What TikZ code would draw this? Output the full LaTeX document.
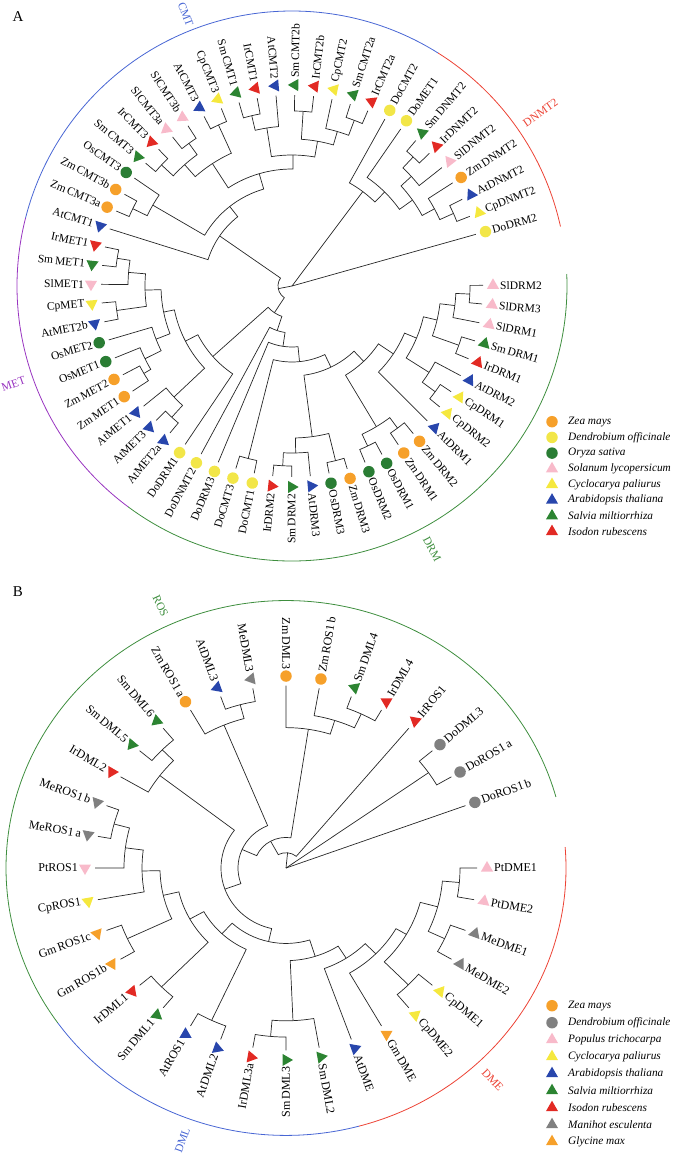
\documentclass[tikz,border=0pt]{standalone}
\usepackage{fontspec}
\setmainfont{Liberation Serif}
\usetikzlibrary{shapes.geometric}

\definecolor{zmorange}{RGB}{246,160,42}
\definecolor{doyellow}{RGB}{242,230,72}
\definecolor{osgreen}{RGB}{42,125,52}
\definecolor{slpink}{RGB}{248,186,202}
\definecolor{cpyellow}{RGB}{245,232,62}
\definecolor{atblue}{RGB}{40,70,172}
\definecolor{smgreen}{RGB}{44,132,50}
\definecolor{irred}{RGB}{226,42,36}
\definecolor{megray}{RGB}{128,128,128}
\definecolor{cmtblue}{RGB}{72,102,212}
\definecolor{dnmtred}{RGB}{236,66,52}
\definecolor{drmgreen}{RGB}{62,142,62}
\definecolor{metpurple}{RGB}{152,52,192}

% leaf: name, angle, marker style, label
\newcommand{\leaf}[4]{%
  \expandafter\xdef\csname tang#1\endcsname{#2}%
  \coordinate (#1) at (#2:191);
  \node[#3, rotate=#2] (#1m) at (#2:201) {};
  \pgfmathtruncatemacro\lfflip{and(#2>89.9, #2<270.1)}%
  \ifnum\lfflip=1
    \pgfmathsetmacro\lfrot{#2-180}%
    \node[lbl, anchor=east, rotate=\lfrot] (#1t) at (#2:208) {#4};
  \else
    \node[lbl, anchor=west, rotate=#2] (#1t) at (#2:208) {#4};
  \fi}
% clade: parent, child, child, radius
\newcommand{\clade}[4]{%
  \pgfmathsetmacro\angA{\csname tang#2\endcsname}%
  \pgfmathsetmacro\angB{\csname tang#3\endcsname}%
  \pgfmathsetmacro\angM{(\angA+\angB)/2}%
  \expandafter\xdef\csname tang#1\endcsname{\angM}%
  \coordinate (#1) at (\angM:#4);
  \draw[branch] (#2) -- (\angA:#4) arc[start angle=\angA, end angle=\angB, radius=#4] -- (#3);}

\begin{document}
\begin{tikzpicture}[x=1pt, y=1pt,
  branch/.style={line width=0.7pt, draw=black!85},
  dot/.style={circle, inner sep=0pt, minimum size=11.5pt},
  tri/.style={regular polygon, regular polygon sides=3, inner sep=0pt, minimum size=14pt},
  mkZm/.style={dot, fill=zmorange},
  mkDo/.style={dot, fill=doyellow},
  mkDoB/.style={dot, fill=megray},
  mkOs/.style={dot, fill=osgreen},
  mkSl/.style={tri, fill=slpink},
  mkPt/.style={tri, fill=slpink},
  mkCp/.style={tri, fill=cpyellow},
  mkAt/.style={tri, fill=atblue},
  mkSm/.style={tri, fill=smgreen},
  mkIr/.style={tri, fill=irred},
  mkMe/.style={tri, fill=megray},
  mkGm/.style={tri, fill=zmorange},
  lbl/.style={inner sep=0pt, font=\fontsize{11.5}{13}\selectfont},
  grp/.style={inner sep=0pt, font=\fontsize{11.5}{13}\selectfont},
  legtext/.style={anchor=west, inner sep=0pt, font=\fontsize{11.3}{13}\selectfont\itshape},
  panel/.style={inner sep=0pt, font=\fontsize{15}{17}\selectfont}]
\useasboundingbox (0,0) rectangle (685,-1155);

\node[panel] (labA) at (18,-17) {A};
\node[panel] (labB) at (18,-592) {B};

% ---------------- tree A
\begin{scope}[shift={(292,-286)}]
\draw[cmtblue, line width=0.8pt] (57.9:275) arc[start angle=57.9, end angle=165.7, radius=275];
\draw[dnmtred, line width=0.8pt] (12.5:275) arc[start angle=12.5, end angle=57.9, radius=275];
\draw[drmgreen, line width=0.8pt] (-126.6:275) arc[start angle=-126.6, end angle=2.5, radius=275];
\draw[metpurple, line width=0.8pt] (165.7:275) arc[start angle=165.7, end angle=233.4, radius=275];
\node[grp, text=cmtblue, anchor=east, rotate=-68.6] (cmtlab) at (111.4:279) {CMT};
\node[grp, text=dnmtred, anchor=west, rotate=34.9] (dnmtlab) at (34.9:283) {DNMT2};
\node[grp, text=drmgreen, anchor=west, rotate=-62] (drmlab) at (-62:285) {DRM};
\node[grp, text=metpurple, anchor=east, rotate=19.4] (metlab) at (199.4:283) {MET};

\leaf{IrMET1}{168.2}{mkIr}{IrMET1}
\leaf{SmMET1}{173.8}{mkSm}{Sm\,MET1}
\leaf{SlMET1}{179.5}{mkSl}{SlMET1}
\leaf{CpMET}{185.1}{mkCp}{CpMET}
\leaf{AtMET2b}{190.8}{mkAt}{AtMET2b}
\leaf{OsMET2}{196.4}{mkOs}{OsMET2}
\leaf{OsMET1}{202.1}{mkOs}{OsMET1}
\leaf{ZmMET2}{207.7}{mkZm}{Zm\,MET2}
\leaf{ZmMET1}{213.4}{mkZm}{Zm\,MET1}
\leaf{AtMET1}{219.0}{mkAt}{AtMET1}
\leaf{AtMET3}{224.7}{mkAt}{AtMET3}
\leaf{AtMET2a}{230.3}{mkAt}{AtMET2a}
\leaf{DoDRM1}{236.0}{mkDo}{DoDRM1}
\leaf{DoDNMT2}{241.6}{mkDo}{DoDNMT2}
\leaf{DoDRM3}{247.3}{mkDo}{DoDRM3}
\leaf{DoCMT3}{252.9}{mkDo}{DoCMT3}
\leaf{DoCMT1}{258.6}{mkDo}{DoCMT1}
\leaf{IrDRM2}{264.2}{mkIr}{IrDRM2}
\leaf{SmDRM2}{269.9}{mkSm}{Sm\,DRM2}
\leaf{AtDRM3}{275.5}{mkAt}{AtDRM3}
\leaf{OsDRM3}{281.2}{mkOs}{OsDRM3}
\leaf{ZmDRM3}{286.8}{mkZm}{Zm\,DRM3}
\leaf{OsDRM2}{292.5}{mkOs}{OsDRM2}
\leaf{OsDRM1}{298.1}{mkOs}{OsDRM1}
\leaf{ZmDRM1}{303.8}{mkZm}{Zm\,DRM1}
\leaf{ZmDRM2}{309.4}{mkZm}{Zm\,DRM2}
\leaf{AtDRM1}{315.1}{mkAt}{AtDRM1}
\leaf{CpDRM2}{320.7}{mkCp}{CpDRM2}
\leaf{CpDRM1}{326.4}{mkCp}{CpDRM1}
\leaf{AtDRM2}{332.0}{mkAt}{AtDRM2}
\leaf{IrDRM1}{337.6}{mkIr}{IrDRM1}
\leaf{SmDRM1}{343.3}{mkSm}{Sm\,DRM1}
\leaf{SlDRM1}{348.9}{mkSl}{SlDRM1}
\leaf{SlDRM3}{354.6}{mkSl}{SlDRM3}
\leaf{SlDRM2}{360.2}{mkSl}{SlDRM2}
\leaf{DoDRM2}{15.7}{mkDo}{DoDRM2}
\leaf{CpDNMT2}{21.4}{mkCp}{CpDNMT2}
\leaf{AtDNMT2}{27.0}{mkAt}{AtDNMT2}
\leaf{ZmDNMT2}{32.7}{mkZm}{Zm\,DNMT2}
\leaf{SlDNMT2}{38.3}{mkSl}{SlDNMT2}
\leaf{IrDNMT2}{44.0}{mkIr}{IrDNMT2}
\leaf{SmDNMT2}{49.6}{mkSm}{Sm\,DNMT2}
\leaf{DoMET1}{55.3}{mkDo}{DoMET1}
\leaf{DoCMT2}{60.9}{mkDo}{DoCMT2}
\leaf{IrCMT2a}{66.6}{mkIr}{IrCMT2a}
\leaf{SmCMT2a}{72.2}{mkSm}{Sm\,CMT2a}
\leaf{CpCMT2}{77.9}{mkCp}{CpCMT2}
\leaf{IrCMT2b}{83.5}{mkIr}{IrCMT2b}
\leaf{SmCMT2b}{89.2}{mkSm}{Sm\,CMT2b}
\leaf{AtCMT2}{94.8}{mkAt}{AtCMT2}
\leaf{IrCMT1}{100.5}{mkIr}{IrCMT1}
\leaf{SmCMT1}{106.1}{mkSm}{Sm\,CMT1}
\leaf{CpCMT3}{111.7}{mkCp}{CpCMT3}
\leaf{AtCMT3}{117.4}{mkAt}{AtCMT3}
\leaf{SlCMT3b}{123.0}{mkSl}{SlCMT3b}
\leaf{SlCMT3a}{128.7}{mkSl}{SlCMT3a}
\leaf{IrCMT3}{134.3}{mkIr}{IrCMT3}
\leaf{SmCMT3}{140.0}{mkSm}{Sm\,CMT3}
\leaf{OsCMT3}{145.6}{mkOs}{OsCMT3}
\leaf{ZmCMT3b}{151.3}{mkZm}{Zm\,CMT3b}
\leaf{ZmCMT3a}{156.9}{mkZm}{Zm\,CMT3a}
\leaf{AtCMT1}{162.6}{mkAt}{AtCMT1}

% DNMT2 side
\clade{aSI}{SmDNMT2}{IrDNMT2}{177}
\clade{aSIS}{aSI}{SlDNMT2}{162}
\clade{aAC}{AtDNMT2}{CpDNMT2}{177}
\clade{aZAC}{ZmDNMT2}{aAC}{162}
\clade{aDN}{aSIS}{aZAC}{148}
\clade{aDM}{DoMET1}{aDN}{132}
\clade{aDC}{DoCMT2}{aDM}{118}
% CMT
\clade{aIStwoa}{IrCMT2a}{SmCMT2a}{177}
\clade{aCptwo}{aIStwoa}{CpCMT2}{161}
\clade{aIStwob}{IrCMT2b}{SmCMT2b}{175}
\clade{aCtwo}{aCptwo}{aIStwob}{147}
\clade{aISone}{IrCMT1}{SmCMT1}{175}
\clade{aAttwo}{AtCMT2}{aISone}{160}
\clade{aConetwo}{aCtwo}{aAttwo}{131}
\clade{aCAthree}{CpCMT3}{AtCMT3}{177}
\clade{aSlthree}{SlCMT3b}{SlCMT3a}{176}
\clade{aISthree}{IrCMT3}{SmCMT3}{178}
\clade{aSISthree}{aSlthree}{aISthree}{162}
\clade{aCthree}{aCAthree}{aSISthree}{146}
\clade{aCall}{aConetwo}{aCthree}{117}
\clade{aZmthree}{ZmCMT3b}{ZmCMT3a}{177}
\clade{aOZthree}{OsCMT3}{aZmthree}{161}
\clade{aCx}{aCall}{aOZthree}{101}
\clade{aCMT}{aCx}{AtCMT1}{88}
% MET
\clade{aISm}{IrMET1}{SmMET1}{177}
\clade{aISS}{aISm}{SlMET1}{164}
\clade{aCA}{CpMET}{AtMET2b}{177}
\clade{aMone}{aISS}{aCA}{147}
\clade{aZm}{ZmMET2}{ZmMET1}{172}
\clade{aOZ}{OsMET1}{aZm}{164}
\clade{aOstwo}{OsMET2}{aOZ}{146}
\clade{aMa}{aMone}{aOstwo}{131}
\clade{aAtt}{AtMET3}{AtMET2a}{178}
\clade{aAone}{AtMET1}{aAtt}{162}
\clade{aMET}{aMa}{aAone}{120}
\clade{aMD}{aMET}{DoDRM1}{106}
% DRM
\clade{aIS}{IrDRM2}{SmDRM2}{180}
\clade{aISA}{aIS}{AtDRM3}{167}
\clade{aOZd}{OsDRM3}{ZmDRM3}{180}
\clade{aISAOZ}{aISA}{aOZd}{152}
\clade{aOsd}{OsDRM2}{OsDRM1}{177}
\clade{aZmd}{ZmDRM1}{ZmDRM2}{177}
\clade{aOZtw}{aOsd}{aZmd}{164}
\clade{aCp}{CpDRM2}{CpDRM1}{178}
\clade{aCpAt}{aCp}{AtDRM2}{162}
\clade{aISd}{IrDRM1}{SmDRM1}{177}
\clade{aSltt}{SlDRM3}{SlDRM2}{178}
\clade{aSl}{SlDRM1}{aSltt}{164}
\clade{aISSl}{aISd}{aSl}{149}
\clade{aSCA}{aCpAt}{aISSl}{135}
\clade{aX}{AtDRM1}{aSCA}{122}
\clade{aDRMr}{aOZtw}{aX}{104}
\clade{aDRM}{aISAOZ}{aDRMr}{90}
\clade{aDoC}{DoCMT3}{DoCMT1}{178}
\clade{aDothree}{aDoC}{aDRM}{76}
\clade{aDotwo}{DoDRM3}{aDothree}{61}
\clade{aDoone}{DoDNMT2}{aDotwo}{47}
\clade{aMDD}{aMD}{aDoone}{32}
\clade{aZ}{aCMT}{aMDD}{14}
% root
\coordinate (rootA) at (0,0);
\path[branch] (rootA) edge (aDC);
\path[branch] (rootA) edge (DoDRM2);
\path[branch] (rootA) edge (aZ);
\end{scope}

% legend A
\node[mkZm] (legAa) at (552,-421.7) {};
\node[mkDo] (legAb) at (552,-437.4) {};
\node[mkOs] (legAc) at (552,-453.1) {};
\node[mkSl] (legAd) at (552,-468.8) {};
\node[mkCp] (legAe) at (552,-484.5) {};
\node[mkAt] (legAf) at (552,-500.2) {};
\node[mkSm] (legAg) at (552,-515.9) {};
\node[mkIr] (legAh) at (552,-531.6) {};
\node[legtext] (legAat) at (568,-421.7) {Zea mays};
\node[legtext] (legAbt) at (568,-437.4) {Dendrobium officinale};
\node[legtext] (legAct) at (568,-453.1) {Oryza sativa};
\node[legtext] (legAdt) at (568,-468.8) {Solanum lycopersicum};
\node[legtext] (legAet) at (568,-484.5) {Cyclocarya paliurus};
\node[legtext] (legAft) at (568,-500.2) {Arabidopsis thaliana};
\node[legtext] (legAgt) at (568,-515.9) {Salvia miltiorrhiza};
\node[legtext] (legAht) at (568,-531.6) {Isodon rubescens};

% ---------------- tree B
\begin{scope}[shift={(286,-868)}, yscale=0.955,
  lbl/.style={inner sep=0pt, font=\fontsize{12}{14}\selectfont}]
\draw[drmgreen, line width=0.8pt] (15.4:280) arc[start angle=15.4, end angle=215.4, radius=280];
\draw[cmtblue, line width=0.8pt] (215.4:280) arc[start angle=215.4, end angle=285.1, radius=280];
\draw[dnmtred, line width=0.8pt] (285.1:280) arc[start angle=285.1, end angle=364.5, radius=280];
\node[grp, text=drmgreen, anchor=east, rotate=-65.4] (roslab) at (114.6:290) {ROS};
\node[grp, text=cmtblue, anchor=east, rotate=70] (dmllab) at (250:290) {DML};
\node[grp, text=dnmtred, anchor=west, rotate=-47] (dmelab) at (-47:290) {DME};

\leaf{ZmROS1a}{120}{mkZm}{Zm\,ROS1\,a}
\leaf{AtDML3}{110}{mkAt}{AtDML3}
\leaf{MeDML3}{100}{mkMe}{MeDML3}
\leaf{ZmDML3}{90}{mkZm}{Zm\,DML3}
\leaf{ZmROS1b}{80}{mkZm}{Zm\,ROS1\,b}
\leaf{SmDML4}{70}{mkSm}{Sm\,DML4}
\leaf{IrDML4}{60}{mkIr}{IrDML4}
\leaf{IrROS1}{50}{mkIr}{IrROS1}
\leaf{DoDML3}{40}{mkDoB}{DoDML3}
\leaf{DoROS1a}{30}{mkDoB}{DoROS1\,a}
\leaf{DoROS1b}{20}{mkDoB}{DoROS1\,b}
\leaf{PtDME1}{360}{mkPt}{PtDME1}
\leaf{PtDME2}{350}{mkPt}{PtDME2}
\leaf{MeDME1}{340}{mkMe}{MeDME1}
\leaf{MeDME2}{330}{mkMe}{MeDME2}
\leaf{CpDME1}{320}{mkCp}{CpDME1}
\leaf{CpDME2}{310}{mkCp}{CpDME2}
\leaf{GmDME}{300}{mkGm}{Gm\,DME}
\leaf{AtDME}{290}{mkAt}{AtDME}
\leaf{SmDML2}{280}{mkSm}{Sm\,DML2}
\leaf{SmDML3}{270}{mkSm}{Sm\,DML3}
\leaf{IrDML3a}{260}{mkIr}{IrDML3a}
\leaf{AtDML2}{250}{mkAt}{AtDML2}
\leaf{AtROS1}{240}{mkAt}{AtROS1}
\leaf{SmDML1}{230}{mkSm}{Sm\,DML1}
\leaf{IrDML1}{220}{mkIr}{IrDML1}
\leaf{GmROS1b}{210}{mkGm}{Gm\,ROS1b}
\leaf{GmROS1c}{200}{mkGm}{Gm\,ROS1c}
\leaf{CpROS1}{190}{mkCp}{CpROS1}
\leaf{PtROS1}{180}{mkPt}{PtROS1}
\leaf{MeROS1a}{170}{mkMe}{MeROS1\,a}
\leaf{MeROS1b}{160}{mkMe}{MeROS1\,b}
\leaf{IrDML2}{150}{mkIr}{IrDML2}
\leaf{SmDML5}{140}{mkSm}{Sm\,DML5}
\leaf{SmDML6}{130}{mkSm}{Sm\,DML6}

% ROS top
\clade{bAM}{AtDML3}{MeDML3}{177}
\clade{bZAM}{ZmROS1a}{bAM}{162}
\clade{bSIfour}{SmDML4}{IrDML4}{178}
\clade{bZSI}{ZmROS1b}{bSIfour}{162}
\clade{bZfour}{ZmDML3}{bZSI}{147}
% ROS left
\clade{bSfs}{SmDML6}{SmDML5}{175}
\clade{bISfs}{bSfs}{IrDML2}{159}
\clade{bMe}{MeROS1b}{MeROS1a}{178}
\clade{bPMe}{bMe}{PtROS1}{162}
\clade{bCPMe}{bPMe}{CpROS1}{144}
\clade{bGm}{GmROS1c}{GmROS1b}{175}
\clade{bGCM}{bCPMe}{bGm}{126}
% DML
\clade{bISone}{IrDML1}{SmDML1}{176}
\clade{bGCMIS}{bGCM}{bISone}{110}
\clade{bAt}{AtROS1}{AtDML2}{176}
\clade{bRD}{bGCMIS}{bAt}{94}
\clade{bISthree}{IrDML3a}{SmDML3}{177}
\clade{bSmtt}{bISthree}{SmDML2}{160}
% DME
\clade{bPt}{PtDME2}{PtDME1}{174}
\clade{bMetwo}{MeDME2}{MeDME1}{175}
\clade{bPM}{bMetwo}{bPt}{157}
\clade{bCptwo}{CpDME2}{CpDME1}{173}
\clade{bPMC}{bCptwo}{bPM}{139}
\clade{bGPC}{GmDME}{bPMC}{127}
\clade{bAGPC}{AtDME}{bGPC}{112}
\clade{bDsn}{bSmtt}{bAGPC}{97}
% inner spiral
\clade{bBsn}{bRD}{bDsn}{79}
\clade{bBsf}{bISfs}{bBsn}{65}
\clade{bBfe}{bZAM}{bBsf}{48}
\clade{bBtt}{bZfour}{bBfe}{32}
\clade{bBos}{IrROS1}{bBtt}{16}
\clade{bDo}{DoDML3}{DoROS1a}{174}
% root
\coordinate (rootB) at (0,0);
\path[branch] (rootB) edge (bBos);
\path[branch] (rootB) edge (bDo);
\path[branch] (rootB) edge (DoROS1b);
\end{scope}

% legend B
\node[mkZm] (legBa) at (552,-1005.7) {};
\node[mkDoB] (legBb) at (552,-1022.7) {};
\node[mkPt] (legBc) at (552,-1039.7) {};
\node[mkCp] (legBd) at (552,-1056.7) {};
\node[mkAt] (legBe) at (552,-1073.7) {};
\node[mkSm] (legBf) at (552,-1090.7) {};
\node[mkIr] (legBg) at (552,-1107.7) {};
\node[mkMe] (legBh) at (552,-1124.7) {};
\node[mkGm] (legBi) at (552,-1141.7) {};
\node[legtext] (legBat) at (568,-1005.7) {Zea mays};
\node[legtext] (legBbt) at (568,-1022.7) {Dendrobium officinale};
\node[legtext] (legBct) at (568,-1039.7) {Populus trichocarpa};
\node[legtext] (legBdt) at (568,-1056.7) {Cyclocarya paliurus};
\node[legtext] (legBet) at (568,-1073.7) {Arabidopsis thaliana};
\node[legtext] (legBft) at (568,-1090.7) {Salvia miltiorrhiza};
\node[legtext] (legBgt) at (568,-1107.7) {Isodon rubescens};
\node[legtext] (legBht) at (568,-1124.7) {Manihot esculenta};
\node[legtext] (legBit) at (568,-1141.7) {Glycine max};
\end{tikzpicture}
\end{document}
